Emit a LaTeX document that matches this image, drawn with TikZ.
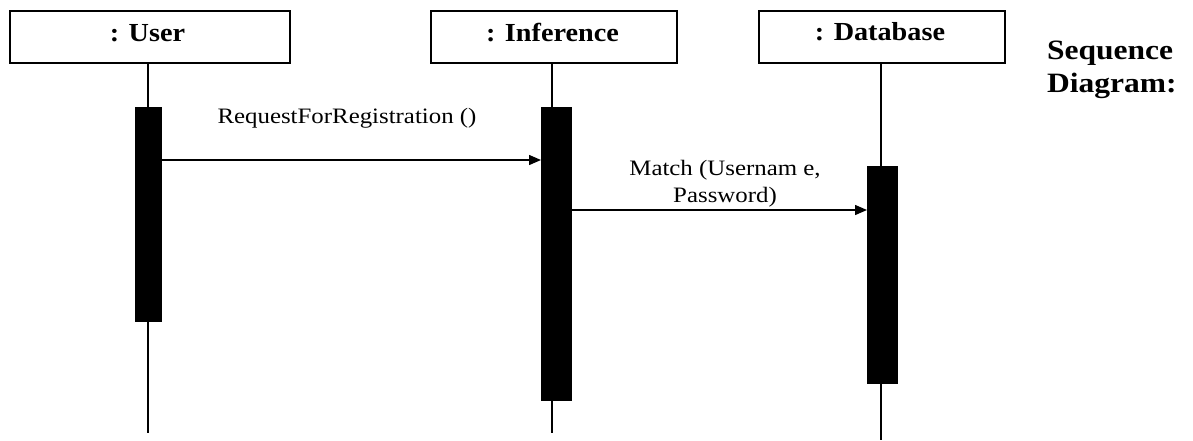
\documentclass[tikz,border=0pt]{standalone}
\usepackage{fontspec}
\setmainfont{Liberation Serif}
\newfontfamily\boxfont[FakeStretch=1.085]{Liberation Serif}
\newfontfamily\msgfont[FakeStretch=1.13]{Liberation Serif}
\newfontfamily\titlefont[FakeStretch=1.125]{Liberation Serif}
\usetikzlibrary{arrows.meta}
\begin{document}
\begin{tikzpicture}[x=1pt,y=-1pt,
  objbox/.style={draw, line width=1.6pt, minimum height=52pt, inner sep=0pt, anchor=north west},
  objlabel/.style={anchor=base, inner sep=0pt, font=\boxfont\bfseries\fontsize{26}{30}\selectfont},
  lifeline/.style={line width=1.6pt},
  actbar/.style={fill=black, draw=black, inner sep=0pt, anchor=north west},
  msg/.style={line width=1.4pt, -{Triangle[length=12pt,width=10pt]}},
  msglabel/.style={align=center, inner sep=0pt, font=\msgfont\fontsize{22}{27}\selectfont},
  titlelabel/.style={anchor=base west, inner sep=0pt, font=\titlefont\bfseries\fontsize{28}{35}\selectfont}]
\useasboundingbox (0,0) rectangle (1193,440);
% object boxes
\node[objbox, minimum width=280pt] (user) at (9,10) {};
\node[objlabel] (userl) at (147.5,41.5) {: User};
\node[objbox, minimum width=246pt] (inf) at (430,10) {};
\node[objlabel] (infl) at (552.5,41.5) {: Inference};
\node[objbox, minimum width=246pt] (db) at (758,10) {};
\node[objlabel] (dbl) at (880,40) {: Database};
% end points of lifelines
\coordinate (userend) at (148,433);
\coordinate (infend) at (552,433);
\coordinate (dbend) at (881,440);
\draw[lifeline] (user.south -| userend) -- (userend);
\draw[lifeline] (inf.south -| infend) -- (infend);
\draw[lifeline] (db.south -| dbend) -- (dbend);
% activation bars
\node[actbar, minimum width=26pt, minimum height=214pt] (ua) at (135,107) {};
\node[actbar, minimum width=30pt, minimum height=293pt] (ia) at (541,107) {};
\node[actbar, minimum width=30pt, minimum height=217pt] (da) at (867,166) {};
% messages
\coordinate (m1) at (0,160);
\coordinate (m2) at (0,210);
\draw[msg] (ua.east |- m1) -- (ia.west |- m1);
\draw[msg] (ia.east |- m2) -- (da.west |- m2);
\node[msglabel, anchor=base] (l1) at (347,123) {RequestForRegistration ()};
\node[msglabel] (l2) at (725,184) {Match (Usernam e,\\ Password)};
% title
\node[titlelabel] (title1) at (1047,59.5) {Sequence};
\node[titlelabel] (title2) at (1047,92) {Diagram:};
\end{tikzpicture}
\end{document}
